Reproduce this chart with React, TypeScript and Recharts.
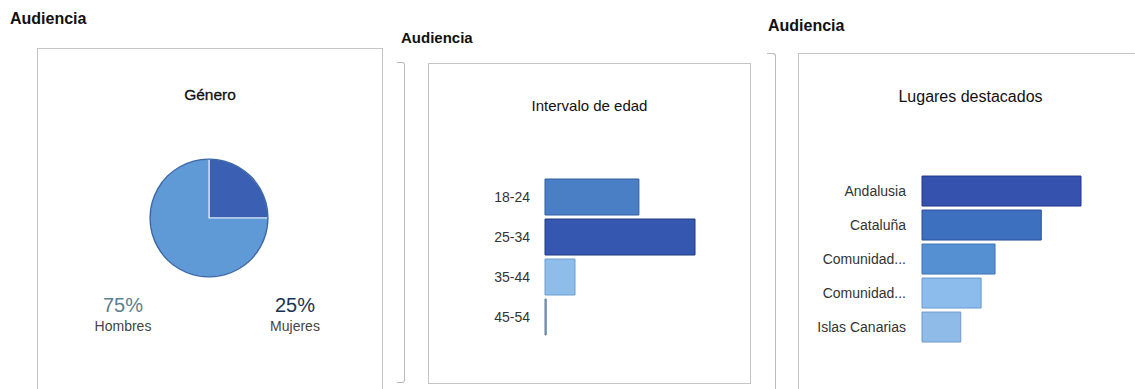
import React from "react";
import { PieChart, Pie, Cell, BarChart, Bar, XAxis, YAxis } from "recharts";

const genderLabels = ["Mujeres", "Hombres"];
const genderValues = [25, 75];

const ageCategories = ["18-24", "25-34", "35-44", "45-54"];
const ageValues = [31.3, 50, 10, 0.4];

const placeCategories = ["Andalusia", "Cataluña", "Comunidad...", "Comunidad...", "Islas Canarias"];
const placeValues = [32, 24, 14.7, 11.9, 7.8];

const genderFill = ["#3a5fb3", "#5f9ad6"];
const ageFill = ["#4a7fc6", "#3557b0", "#8ebde9", "#9fb6cf"];
const ageStroke = ["#2f5f9f", "#1f3b80", "#6d9ed0", "#5a7aa0"];
const placeFill = ["#3553ae", "#3e70c0", "#5590d3", "#8bbcec", "#8fbbe8"];
const placeStroke = ["#22378a", "#284f98", "#3f74b5", "#6a9bd0", "#6f9acb"];

const genderData = genderLabels.map((name, i) => ({ name, value: genderValues[i] }));
const ageData = ageCategories.map((name, i) => ({ name, value: ageValues[i] }));
const placeData = placeCategories.map((name, i) => ({ key: name + i, name, value: placeValues[i] }));

const FONT = "'Liberation Sans', Arial, Helvetica, sans-serif";

const abs = (left: number, top: number, extra: React.CSSProperties = {}): React.CSSProperties => ({
  position: "absolute",
  left,
  top,
  ...extra,
});

const card: React.CSSProperties = {
  border: "1px solid #c4c4c4",
  background: "#fff",
  boxSizing: "border-box",
};

const heading: React.CSSProperties = { fontWeight: 700, fontSize: 16, color: "#111", whiteSpace: "nowrap" };

export default function App() {
  return (
    <div
      style={{
        position: "absolute",
        left: 0,
        top: 0,
        width: 1135,
        height: 389,
        overflow: "hidden",
        background: "#fff",
        fontFamily: FONT,
      }}
    >
      {/* Panel 1 */}
      <div style={abs(10, 10, heading)}>Audiencia</div>
      <div style={abs(37, 48, { ...card, width: 346, height: 360 })} />
      <div
        style={abs(37, 86, {
          width: 346,
          textAlign: "center",
          fontSize: 15.5,
          color: "#111",
          WebkitTextStroke: "0.3px #111",
        })}
      >
        Género
      </div>
      <div style={abs(37, 48)}>
        <PieChart width={345} height={330} margin={{ top: 0, right: 0, bottom: 0, left: 0 }}>
          <Pie
            data={genderData}
            dataKey="value"
            cx={172}
            cy={170}
            outerRadius={59}
            startAngle={90}
            endAngle={-270}
            stroke="#dceaf7"
            strokeWidth={1.2}
            isAnimationActive={false}
          >
            {genderData.map((d, i) => (
              <Cell key={d.name} fill={genderFill[i]} />
            ))}
          </Pie>
          <Pie
            data={[{ name: "ring", value: 1 }]}
            dataKey="value"
            cx={172}
            cy={170}
            innerRadius={58.2}
            outerRadius={59.6}
            startAngle={90}
            endAngle={-270}
            fill="#3c66a8"
            stroke="none"
            isAnimationActive={false}
          />
        </PieChart>
      </div>
      <div style={abs(73, 294, { width: 100, textAlign: "center", fontSize: 20, color: "#5b8090" })}>
        {genderValues[1]}%
      </div>
      <div style={abs(73, 318, { width: 100, textAlign: "center", fontSize: 14, color: "#444" })}>
        {genderLabels[1]}
      </div>
      <div style={abs(245, 294, { width: 100, textAlign: "center", fontSize: 20, color: "#1b3350" })}>
        {genderValues[0]}%
      </div>
      <div style={abs(245, 318, { width: 100, textAlign: "center", fontSize: 14, color: "#444" })}>
        {genderLabels[0]}
      </div>

      {/* Panel 2 */}
      <div style={abs(401, 29, { ...heading, fontSize: 15 })}>Audiencia</div>
      <div
        style={abs(397, 62, {
          width: 8,
          height: 321,
          borderTop: "1px solid #bbb",
          borderRight: "1px solid #bbb",
          borderBottom: "1px solid #bbb",
          borderRadius: "0 3px 3px 0",
          boxSizing: "border-box",
        })}
      />
      <div style={abs(428, 63, { ...card, width: 323, height: 321 })} />
      <div style={abs(428, 97, { width: 323, textAlign: "center", fontSize: 15, color: "#111" })}>
        Intervalo de edad
      </div>
      <div style={abs(428, 63)}>
        <BarChart
          width={322}
          height={320}
          layout="vertical"
          data={ageData}
          margin={{ top: 114, right: 55, bottom: 46, left: 0 }}
          barCategoryGap="5%"
        >
          <XAxis type="number" domain={[0, 50]} hide />
          <YAxis
            type="category"
            dataKey="name"
            width={117}
            axisLine={false}
            tickLine={false}
            tickSize={6}
            tickMargin={9}
            tick={{ fontSize: 14, fill: "#333", fontFamily: FONT }}
          />
          <Bar dataKey="value" isAnimationActive={false} strokeWidth={1}>
            {ageData.map((d, i) => (
              <Cell key={d.name} fill={ageFill[i]} stroke={ageStroke[i]} />
            ))}
          </Bar>
        </BarChart>
      </div>

      {/* Panel 3 */}
      <div style={abs(768, 17, heading)}>Audiencia</div>
      <div
        style={abs(767, 53, {
          width: 9,
          height: 360,
          borderTop: "1px solid #bbb",
          borderRight: "1px solid #bbb",
          borderRadius: "0 3px 0 0",
          boxSizing: "border-box",
        })}
      />
      <div style={abs(798, 53, { ...card, width: 360, height: 360 })} />
      <div style={abs(798, 88, { width: 345, textAlign: "center", fontSize: 16, color: "#111" })}>
        Lugares destacados
      </div>
      <div style={abs(798, 53)}>
        <BarChart
          width={337}
          height={336}
          layout="vertical"
          data={placeData}
          margin={{ top: 121, right: 54, bottom: 45, left: 0 }}
          barCategoryGap="6%"
        >
          <XAxis type="number" domain={[0, 32]} hide />
          <YAxis
            type="category"
            dataKey="key"
            width={124}
            axisLine={false}
            tickLine={false}
            tickSize={6}
            tickMargin={10}
            tickFormatter={(v: string, i: number) => placeCategories[i]}
            tick={{ fontSize: 14, fill: "#333", fontFamily: FONT }}
          />
          <Bar dataKey="value" isAnimationActive={false} strokeWidth={1}>
            {placeData.map((d, i) => (
              <Cell key={d.key} fill={placeFill[i]} stroke={placeStroke[i]} />
            ))}
          </Bar>
        </BarChart>
      </div>
    </div>
  );
}
